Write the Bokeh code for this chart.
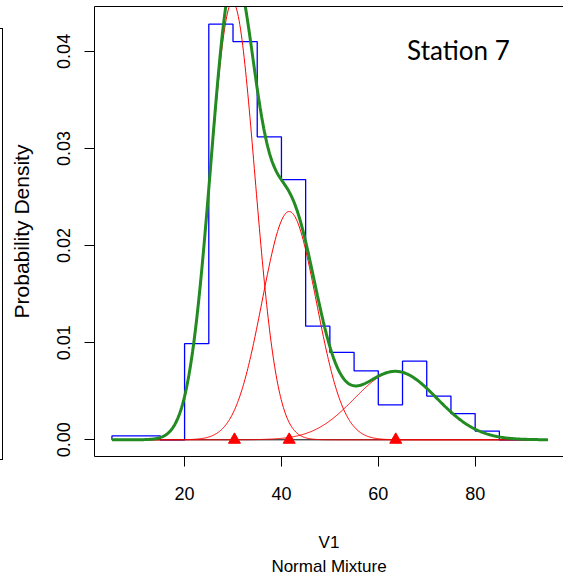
import numpy as np
from bokeh.plotting import figure
from bokeh.models import Range1d, FixedTicker, LinearAxis, Label, Title, Div
from bokeh.layouts import row
from bokeh.embed import file_html
from bokeh.resources import INLINE

# ---- data ----
bin_width = 5
bin_left = [5, 10, 15, 20, 25, 30, 35, 40, 45, 50, 55, 60, 65, 70, 75, 80, 85, 90]
bin_density = [0.0004, 0.0004, 0.0, 0.0099, 0.0428, 0.0410, 0.0312, 0.0268, 0.0117,
               0.0090, 0.0071, 0.0036, 0.0081, 0.0045, 0.0027, 0.0009, 0.0, 0.0]

comp_prop = [0.52, 0.33, 0.15]
comp_mean = [29.9, 41.6, 63.6]
comp_sd = [4.6, 5.6, 8.5]
marker_mean = [30.3, 41.6, 63.6]

x_ticks = [20, 40, 60, 80]
y_ticks = [0.00, 0.01, 0.02, 0.03, 0.04]
y_tick_labels = ["0.00", "0.01", "0.02", "0.03", "0.04"]

x_label = "V1"
y_label = "Probability Density"
sub_label = "Normal Mixture"
station = "Station 7"

# ---- derived series ----
x_lo = bin_left[0]
x_hi = bin_left[-1] + bin_width
step_x = [x_lo]
step_y = [0.0]
for left, d in zip(bin_left, bin_density):
    step_x += [left, left + bin_width]
    step_y += [d, d]
step_x.append(x_hi)
step_y.append(0.0)

xs = np.linspace(x_lo, x_hi, 601)
comps = []
for pr, mu, sd in zip(comp_prop, comp_mean, comp_sd):
    comps.append(pr / (sd * np.sqrt(2 * np.pi)) * np.exp(-0.5 * ((xs - mu) / sd) ** 2))
total = np.sum(comps, axis=0)

FONT = "Liberation Sans"

p = figure(width=560, height=582,
           x_range=Range1d(1.4, 98.24), y_range=Range1d(-0.00172, 0.04462),
           output_backend="svg", toolbar_location=None,
           min_border_left=91, min_border_right=0, min_border_top=6, min_border_bottom=126,
           background_fill_color="white", border_fill_color="white",
           outline_line_color=None)
p.xgrid.visible = False
p.ygrid.visible = False

for ax in (p.xaxis[0], p.yaxis[0]):
    ax.major_tick_out = 10
    ax.major_tick_in = 0
    ax.minor_tick_out = 0
    ax.minor_tick_in = 0
    ax.axis_line_color = "black"
    ax.major_tick_line_color = "black"
    ax.major_label_text_font = FONT
    ax.major_label_text_font_size = "18px"
    ax.major_label_text_color = "black"
    ax.axis_label_text_font = FONT
    ax.axis_label_text_font_style = "normal"
    ax.axis_label_text_color = "black"

p.xaxis.ticker = FixedTicker(ticks=x_ticks)
p.xaxis.major_label_standoff = 20
p.xaxis.axis_label = x_label
p.xaxis.axis_label_text_font_size = "17px"
p.xaxis.axis_label_standoff = 30

p.yaxis.ticker = FixedTicker(ticks=y_ticks)
p.yaxis.major_label_overrides = dict(zip(y_ticks, y_tick_labels))
p.yaxis.major_label_orientation = "vertical"
p.yaxis.major_label_standoff = 14
p.yaxis.axis_label = y_label
p.yaxis.axis_label_text_font_size = "21px"
p.yaxis.axis_label_standoff = 22

top = LinearAxis(ticker=FixedTicker(ticks=[]), major_tick_out=0, major_tick_in=0,
                 minor_tick_out=0, minor_tick_in=0, major_label_standoff=0,
                 major_label_text_font_size="0px", axis_line_color="black")
p.add_layout(top, "above")

sub = Title(text=sub_label, align="center", text_font=FONT, text_font_size="17px",
            text_font_style="normal", text_color="black", standoff=0)
p.add_layout(sub, "below")

# histogram outline
p.line(step_x, step_y, line_color="#0000FF", line_width=1.3)
# baseline
p.line([x_lo, x_hi], [0, 0], line_color="black", line_width=1)
# components
for c in comps:
    p.line(xs, c, line_color="#FF0000", line_width=1)
# mixture
p.line(xs, total, line_color="#228B22", line_width=3)
# component means
p.scatter(marker_mean, [0.0] * len(marker_mean), marker="triangle", size=12,
          fill_color="#FF0000", line_color="#FF0000")

p.add_layout(Label(x=65.95, y=0.0401, text=station, text_font="Lato",
                   text_font_size="26px", text_color="black",
                   text_align="left", text_baseline="alphabetic"))

edge = Div(text="", width=3, height=432, margin=(28, 0, 0, 0),
           styles={"border-right": "1px solid black", "border-top": "1px solid black",
                   "border-bottom": "1px solid black", "box-sizing": "border-box"})

layout = row(edge, p)

open("out.html", "w").write(file_html(layout, INLINE))
